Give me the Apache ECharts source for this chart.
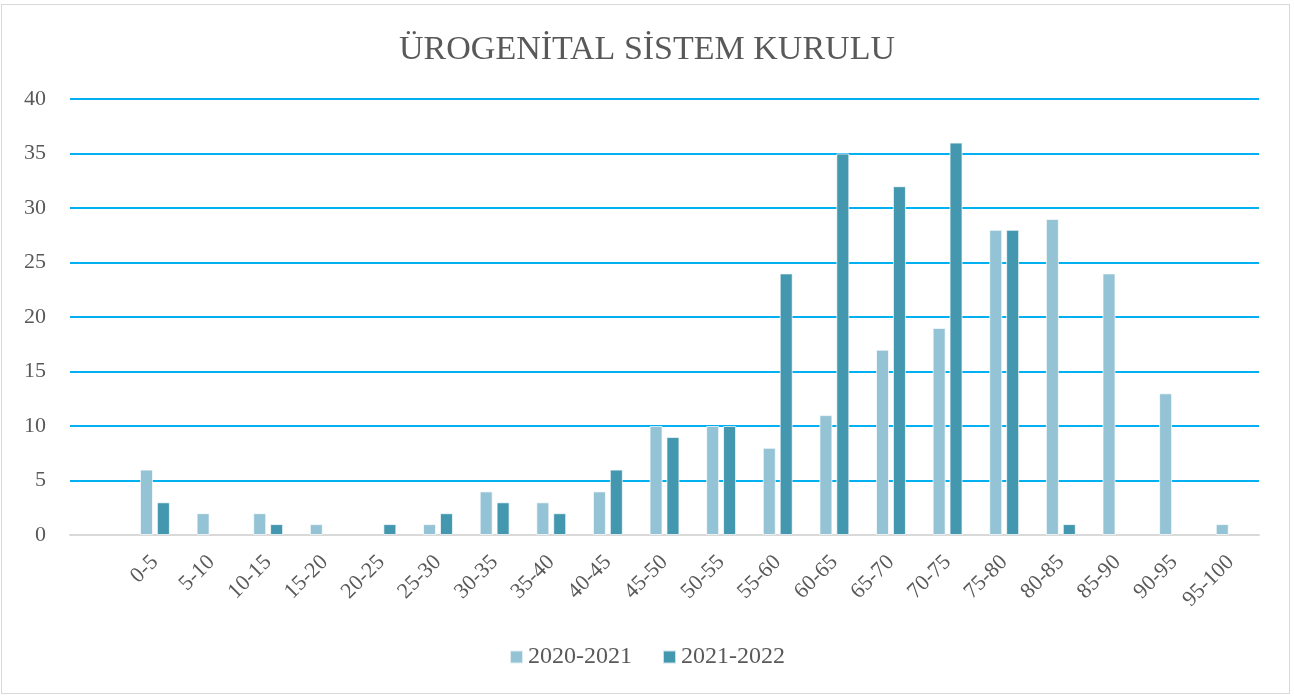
<!DOCTYPE html>
<html><head><meta charset="utf-8">
<script src="https://cdn.jsdelivr.net/npm/echarts@6/dist/echarts.min.js"></script>
<style>
html,body{margin:0;padding:0;background:#fff;}
#wrap{position:absolute;left:1px;top:4px;width:1289px;height:690px;border:1px solid #d9d9d9;box-sizing:border-box;}
#c{position:absolute;left:0;top:0;width:1294px;height:697px;}
</style></head>
<body><div id="wrap"></div><div id="c"></div>
<script>
const categories = ["", "0-5","5-10","10-15","15-20","20-25","25-30","30-35","35-40","40-45","45-50","50-55","55-60","60-65","65-70","70-75","75-80","80-85","85-90","90-95","95-100"];
const s2020 = [null, 6,2,2,1,null,1,4,3,4,10,10,8,11,17,19,28,29,24,13,1];
const s2021 = [null, 3,null,1,null,1,2,3,2,6,9,10,24,35,32,36,28,1,null,null,null];
const yTicks = [0,5,10,15,20,25,30,35,40];
const font = "'Liberation Serif', 'DejaVu Serif', serif";
const chart = echarts.init(document.getElementById('c'));
chart.setOption({
  animation:false,
  title:{text:'ÜROGENİTAL SİSTEM KURULU', left:'center', top:28,
    textStyle:{fontFamily:font, fontSize:34, fontWeight:'normal', color:'#595959'}},
  legend:{bottom:23, left:'center', itemWidth:13, itemHeight:13, itemGap:30,
    icon:'rect', textStyle:{fontFamily:font, fontSize:24, color:'#595959'},
    data:['2020-2021','2021-2022']},
  grid:{left:70, right:35, top:99, bottom:162},
  xAxis:{type:'category', data:categories,
    axisLine:{lineStyle:{color:'#d9d9d9', width:2}}, axisTick:{show:false},
    axisLabel:{rotate:45, interval:0, fontFamily:font, fontSize:22, color:'#595959', margin:24}},
  yAxis:{type:'value', min:0, max:40, interval:5,
    axisLine:{show:false}, axisTick:{show:false},
    splitLine:{lineStyle:{color:'#00b0f0', width:2}},
    axisLabel:{fontFamily:font, fontSize:22, color:'#595959', margin:24}},
  series:[
    {name:'2020-2021', type:'bar', data:s2020, barWidth:13, barGap:'30%',
     itemStyle:{color:'#94c3d5', borderColor:'rgba(255,255,255,0.7)', borderWidth:1}},
    {name:'2021-2022', type:'bar', data:s2021, barWidth:13,
     itemStyle:{color:'#4397af', borderColor:'rgba(255,255,255,0.7)', borderWidth:1}}
  ]
});
</script></body></html>
